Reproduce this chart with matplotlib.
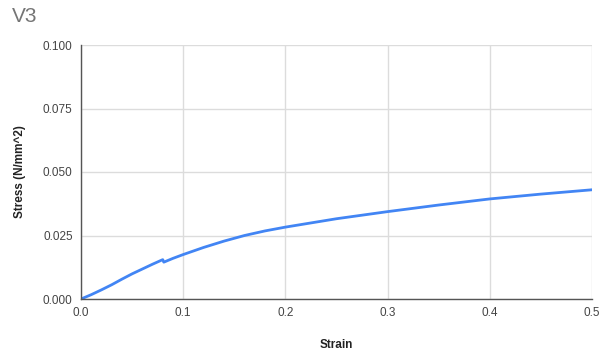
import matplotlib
matplotlib.use("Agg")
import matplotlib.pyplot as plt

strain = [0, 0.01, 0.02, 0.03, 0.04, 0.05, 0.06, 0.07, 0.08, 0.081, 0.09, 0.10,
          0.12, 0.14, 0.16, 0.18, 0.20, 0.25, 0.30, 0.35, 0.40, 0.45, 0.50]
stress = [0, 0.0017, 0.0036, 0.0056, 0.0078, 0.0099, 0.0118, 0.0137, 0.0155, 0.0145,
          0.0160, 0.0175, 0.0203, 0.0228, 0.0250, 0.0268, 0.0283, 0.0316, 0.0344,
          0.0370, 0.0394, 0.0413, 0.0430]
xticks = [0.0, 0.1, 0.2, 0.3, 0.4, 0.5]
xticklabels = ["0.0", "0.1", "0.2", "0.3", "0.4", "0.5"]
yticks = [0.0, 0.025, 0.05, 0.075, 0.1]
yticklabels = ["0.000", "0.025", "0.050", "0.075", "0.100"]

plt.rcParams['font.family'] = ['Liberation Sans', 'DejaVu Sans']

fig = plt.figure(figsize=(6.02, 3.54), dpi=100)
ax = fig.add_axes([81/602, 1 - 299/354, (592-81)/602, (299-45)/354])

ax.plot(strain, stress, color='#4285F4', linewidth=2, solid_capstyle='round')
ax.set_xlim(0, 0.5)
ax.set_ylim(0, 0.1)
ax.set_xticks(xticks)
ax.set_xticklabels(xticklabels)
ax.set_yticks(yticks)
ax.set_yticklabels(yticklabels)
ax.grid(True, color='#dcdcdc', linewidth=1)
ax.set_axisbelow(True)
for s in ['top', 'right']:
    ax.spines[s].set_visible(False)
for s in ['left', 'bottom']:
    ax.spines[s].set_color('#555555')
    ax.spines[s].set_linewidth(1)
ax.tick_params(length=0, labelsize=8.5, labelcolor='#444444')
ax.tick_params(axis='x', pad=6)
ax.tick_params(axis='y', pad=6)

ax.set_xlabel('Strain', fontsize=8.5, fontweight='bold', color='#222222', labelpad=14)
ax.set_ylabel('Stress (N/mm^2)', fontsize=8.5, fontweight='bold', color='#222222', labelpad=12)

fig.text(12/602, 1 - 16/354, 'V3', fontsize=15, color='#757575', va='center', ha='left')

fig.savefig('out.png', dpi=100)
